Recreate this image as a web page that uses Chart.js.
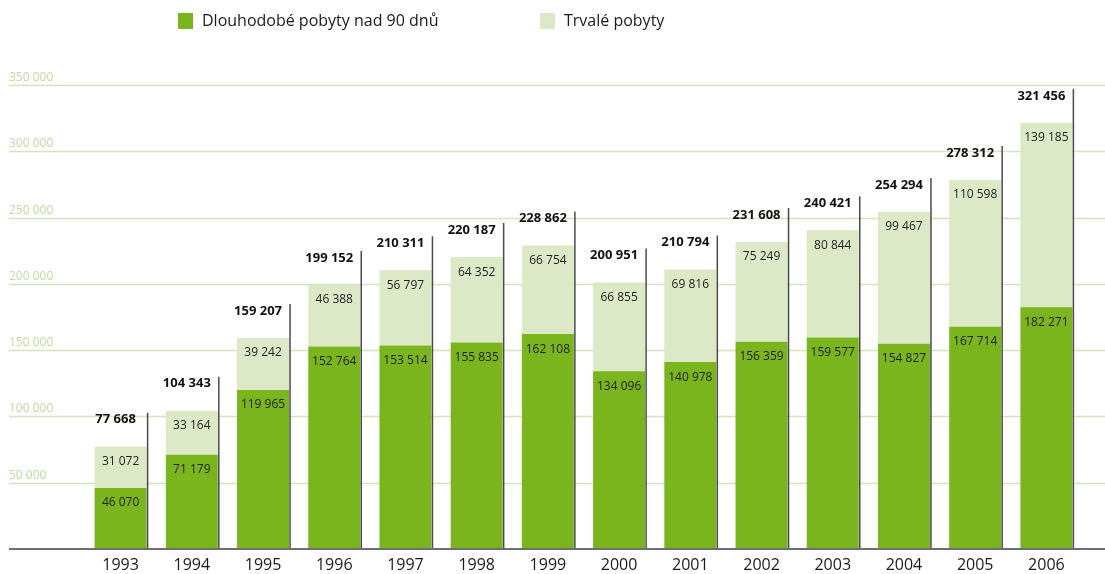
<!DOCTYPE html>
<html>
<head>
<meta charset="utf-8">
<script src="https://cdn.jsdelivr.net/npm/chart.js@4.4.0/dist/chart.umd.min.js"></script>
<style>
  html, body { margin: 0; padding: 0; background: #fff; overflow: hidden; }
  canvas { display: block; }
</style>
</head>
<body>
<canvas id="pobytyChart" width="1105" height="574"></canvas>
<script>
// Data
const years = ['1993', '1994', '1995', '1996', '1997', '1998', '1999', '2000', '2001', '2002', '2003', '2004', '2005', '2006'];
const dlouhodobe = [46070, 71179, 119965, 152764, 153514, 155835, 162108, 134096, 140978, 156359, 159577, 154827, 167714, 182271];
const trvale = [31072, 33164, 39242, 46388, 56797, 64352, 66754, 66855, 69816, 75249, 80844, 99467, 110598, 139185];
const celkem = [77668, 104343, 159207, 199152, 210311, 220187, 228862, 200951, 210794, 231608, 240421, 254294, 278312, 321456];
const yTicks = [50000, 100000, 150000, 200000, 250000, 300000, 350000];

const DARK = '#7ab51d';
const LIGHT = '#dde8c7';
const FONT = '"Open Sans", sans-serif';

// 46070 -> "46 070"
function fmt(v) {
    return String(v).replace(/\B(?=(\d{3})+(?!\d))/g, ' ');
}

// Grid lines, y labels, axis line and legend
const backgroundPlugin = {
    id: 'background',
    beforeDatasetsDraw(chart) {
        const ctx = chart.ctx;
        const y = chart.scales.y;
        const W = chart.width;
        ctx.save();
        ctx.font = '12px ' + FONT;
        ctx.textAlign = 'left';
        ctx.textBaseline = 'middle';
        yTicks.forEach(t => {
            const py = Math.round(y.getPixelForValue(t)) + 0.5;
            ctx.strokeStyle = '#d5e4bf';
            ctx.lineWidth = 1.5;
            ctx.beginPath();
            ctx.moveTo(9, py);
            ctx.lineTo(W, py);
            ctx.stroke();
            ctx.fillStyle = '#c3d9a0';
            ctx.fillText(fmt(t), 9, py - 8);
        });

        // legend
        const items = [
            { label: chart.data.datasets[0].label, color: DARK, x: 178 },
            { label: chart.data.datasets[1].label, color: LIGHT, x: 540 }
        ];
        ctx.font = '16px ' + FONT;
        items.forEach(it => {
            ctx.fillStyle = it.color;
            ctx.fillRect(it.x, 13, 15, 16);
            ctx.fillStyle = '#1a1a1a';
            ctx.fillText(it.label, it.x + 24, 21);
        });
        ctx.restore();
    },
    afterDatasetsDraw(chart) {
        const ctx = chart.ctx;
        const bottom = chart.scales.y.getPixelForValue(0);
        const low = chart.getDatasetMeta(0).data;
        const high = chart.getDatasetMeta(1).data;
        ctx.save();
        ctx.textAlign = 'center';
        ctx.textBaseline = 'middle';

        high.forEach((bar, i) => {
            const right = bar.x + bar.width / 2 + 1;
            // vertical line on the right of each bar
            ctx.strokeStyle = '#4a4a4a';
            ctx.lineWidth = 1.5;
            ctx.beginPath();
            ctx.moveTo(right, bottom);
            ctx.lineTo(right, bar.y - 34);
            ctx.stroke();

            // total
            ctx.fillStyle = '#111';
            ctx.font = 'bold 13px ' + FONT;
            ctx.fillText(fmt(celkem[i]), bar.x - 5, bar.y - 27);

            // segment values
            ctx.font = '12px ' + FONT;
            ctx.fillStyle = '#222';
            ctx.fillText(fmt(trvale[i]), bar.x, bar.y + 15);
            ctx.fillText(fmt(dlouhodobe[i]), low[i].x, low[i].y + 15);
        });

        // x axis line
        ctx.strokeStyle = '#6e6e6e';
        ctx.lineWidth = 2;
        ctx.beginPath();
        ctx.moveTo(9, bottom);
        ctx.lineTo(chart.width, bottom);
        ctx.stroke();
        ctx.restore();
    }
};

function renderChart() {
    const ctx = document.getElementById('pobytyChart').getContext('2d');
    new Chart(ctx, {
        type: 'bar',
        data: {
            labels: years,
            datasets: [
                {
                    label: 'Dlouhodobé pobyty nad 90 dnů',
                    data: dlouhodobe,
                    backgroundColor: DARK,
                    barPercentage: 0.73,
                    categoryPercentage: 1
                },
                {
                    label: 'Trvalé pobyty',
                    data: trvale,
                    backgroundColor: LIGHT,
                    barPercentage: 0.73,
                    categoryPercentage: 1
                }
            ]
        },
        options: {
            responsive: false,
            animation: false,
            devicePixelRatio: 1,
            layout: { padding: { left: 85, right: 23, top: 85, bottom: 0 } },
            scales: {
                x: {
                    stacked: true,
                    grid: { display: false, drawTicks: false },
                    border: { display: false },
                    ticks: { color: '#1a1a1a', padding: 7, font: { size: 16, family: FONT } },
                    afterFit(scale) { scale.height = 25; }
                },
                y: {
                    stacked: true,
                    display: false,
                    min: 0,
                    max: 350000
                }
            },
            plugins: {
                legend: { display: false },
                tooltip: { enabled: false }
            }
        },
        plugins: [backgroundPlugin]
    });
}

renderChart();
</script>
</body>
</html>
